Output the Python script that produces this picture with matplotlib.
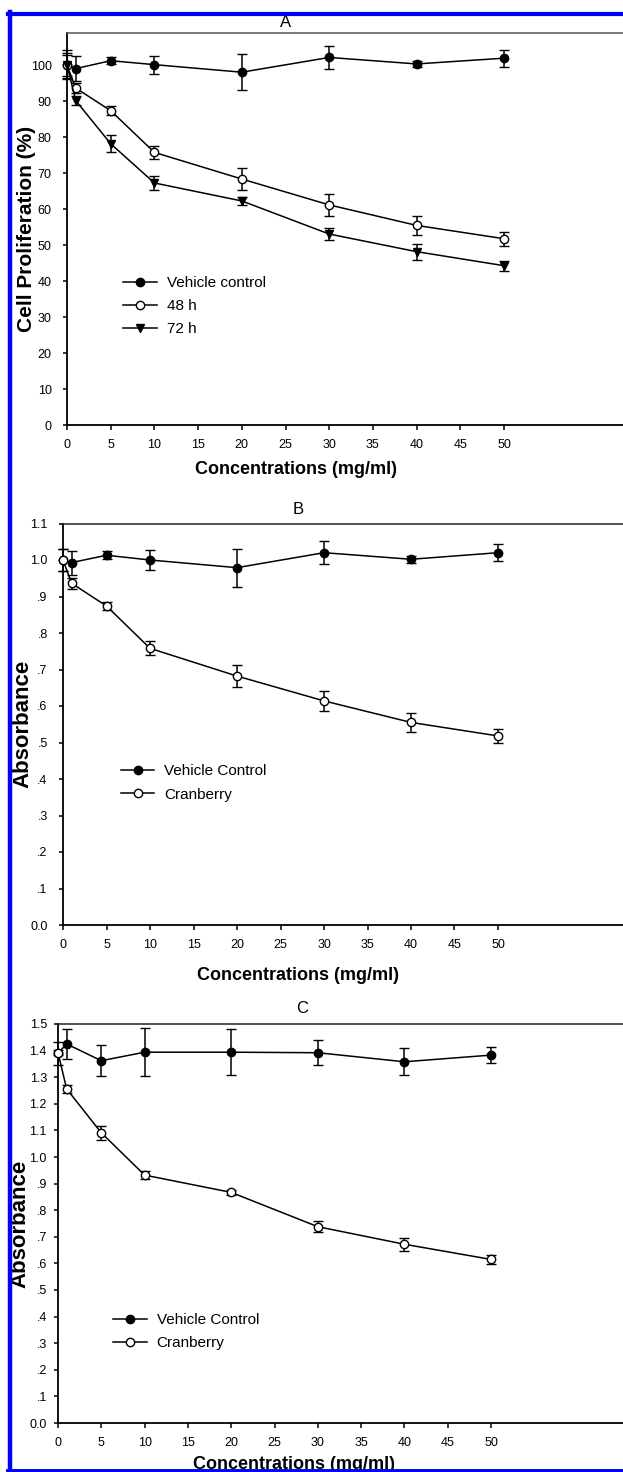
import matplotlib.pyplot as plt
from matplotlib.lines import Line2D

plt.rcParams['font.family'] = ['Liberation Sans', 'DejaVu Sans']

W, H = 623, 1472

# concentrations (mg/ml)
conc = [0, 1, 5, 10, 20, 30, 40, 50]

# panel A - cell proliferation (%)
a_vehicle = [100.2, 99.1, 101.3, 100.2, 98.1, 102.2, 100.4, 102.0]
a_vehicle_err = [4.0, 3.5, 0.9, 2.5, 5.0, 3.1, 0.9, 2.4]
a_48h = [100.0, 93.7, 87.4, 75.8, 68.4, 61.2, 55.5, 51.8]
a_48h_err = [3.0, 1.4, 1.2, 1.9, 3.0, 3.0, 2.6, 1.9]
a_72h = [100.0, 90.2, 78.2, 67.3, 62.3, 53.1, 48.2, 44.3]
a_72h_err = [3.5, 1.2, 2.3, 1.9, 1.0, 1.7, 2.2, 1.4]

# panel B - absorbance
b_vehicle = [1.0, 0.993, 1.013, 1.0, 0.979, 1.02, 1.002, 1.02]
b_vehicle_err = [0.03, 0.033, 0.011, 0.027, 0.052, 0.031, 0.009, 0.024]
b_cran = [1.0, 0.936, 0.874, 0.758, 0.682, 0.614, 0.555, 0.518]
b_cran_err = [0.03, 0.016, 0.012, 0.019, 0.03, 0.028, 0.026, 0.019]

# panel C - absorbance
c_vehicle = [1.39, 1.425, 1.362, 1.394, 1.394, 1.392, 1.358, 1.383]
c_vehicle_err = [0.044, 0.056, 0.058, 0.091, 0.086, 0.046, 0.05, 0.029]
c_cran = [1.392, 1.256, 1.091, 0.932, 0.867, 0.738, 0.672, 0.615]
c_cran_err = [0.01, 0.014, 0.026, 0.015, 0.01, 0.02, 0.025, 0.016]

xticks = [0, 5, 10, 15, 20, 25, 30, 35, 40, 45, 50]
a_yticks = [0, 10, 20, 30, 40, 50, 60, 70, 80, 90, 100]
b_yticks = [0.0, 0.1, 0.2, 0.3, 0.4, 0.5, 0.6, 0.7, 0.8, 0.9, 1.0, 1.1]
b_ylabels = ['0.0', '.1', '.2', '.3', '.4', '.5', '.6', '.7', '.8', '.9', '1.0', '1.1']
c_yticks = [0.0, 0.1, 0.2, 0.3, 0.4, 0.5, 0.6, 0.7, 0.8, 0.9, 1.0, 1.1, 1.2, 1.3, 1.4, 1.5]
c_ylabels = ['0.0', '.1', '.2', '.3', '.4', '.5', '.6', '.7', '.8', '.9',
             '1.0', '1.1', '1.2', '1.3', '1.4', '1.5']

XMAX = 70  # axes run past the right edge of the picture (cropped original)


def axes_px(fig, left, top, bottom, px_per_unit):
    width = px_per_unit * XMAX
    return fig.add_axes([left / W, 1 - bottom / H, width / W, (bottom - top) / H])


def series(ax, y, err, marker, face, label):
    ax.errorbar(conc, y, yerr=err, color='black', marker=marker, markersize=6,
                markerfacecolor=face, markeredgecolor='black', markeredgewidth=1,
                linewidth=1.1, elinewidth=1.1, capsize=3.6, capthick=1.1,
                clip_on=False, zorder=3, label=label)


def style(ax, ylim, yticks, ylabels, ylabel, ylab_size, title, title_x, title_y,
          xlab_x, xlab_y, ylab_x, ypad, top_color):
    ax.set_xlim(0, XMAX)
    ax.set_ylim(*ylim)
    ax.set_xticks(xticks)
    ax.set_yticks(yticks)
    ax.set_yticklabels(ylabels)
    ax.spines['right'].set_visible(False)
    ax.spines['top'].set_color(top_color)
    ax.spines['top'].set_linewidth(1.1)
    ax.spines['left'].set_linewidth(1.3)
    ax.spines['bottom'].set_linewidth(1.3)
    ax.tick_params(axis='x', direction='out', length=3.6, width=1.1, labelsize=9, pad=6.5)
    ax.tick_params(axis='y', direction='out', length=3, width=1.1, labelsize=9, pad=ypad)
    ax.set_xlabel('Concentrations (mg/ml)', fontsize=13, fontweight='bold')
    ax.xaxis.set_label_coords(xlab_x, xlab_y)
    ax.set_ylabel(ylabel, fontsize=ylab_size, fontweight='bold')
    ax.yaxis.set_label_coords(ylab_x, 0.5)
    ax.text(title_x, title_y, title, transform=ax.transAxes, ha='center',
            va='bottom', fontsize=12)


def legend(ax, handles, labels, x, y):
    ax.legend(handles, labels, loc='upper left', bbox_to_anchor=(x, y),
              frameon=False, fontsize=11, borderpad=0, borderaxespad=0,
              handlelength=2.2, handletextpad=0.65, labelspacing=0.6)


fig = plt.figure(figsize=(W / 100, H / 100), dpi=100)

handles = [Line2D([], [], color='black', lw=1.1, marker='o', markersize=6, mfc='black', mec='black'),
           Line2D([], [], color='black', lw=1.1, marker='o', markersize=6, mfc='white', mec='black'),
           Line2D([], [], color='black', lw=1.1, marker='v', markersize=6, mfc='black', mec='black')]

# A
ax = axes_px(fig, 67, 33, 425, 8.74)
series(ax, a_vehicle, a_vehicle_err, 'o', 'black', 'Vehicle control')
series(ax, a_48h, a_48h_err, 'o', 'white', '48 h')
series(ax, a_72h, a_72h_err, 'v', 'black', '72 h')
style(ax, (0, 109), a_yticks, [str(t) for t in a_yticks], 'Cell Proliferation (%)', 15,
      'A', 0.358, 1.008, 0.375, -0.092, -0.051, 8, '#555555')
legend(ax, handles, ['Vehicle control', '48 h', '72 h'], 0.092, 0.38)

# B
ax = axes_px(fig, 63, 523.5, 925, 8.7)
series(ax, b_vehicle, b_vehicle_err, 'o', 'black', 'Vehicle Control')
series(ax, b_cran, b_cran_err, 'o', 'white', 'Cranberry')
style(ax, (0, 1.1), b_yticks, b_ylabels, 'Absorbance', 16,
      'B', 0.387, 1.017, 0.386, -0.104, -0.049, 8, '#222222')
legend(ax, handles[:2], ['Vehicle Control', 'Cranberry'], 0.095, 0.40)

# C
ax = axes_px(fig, 58, 1024, 1423, 8.66)
series(ax, c_vehicle, c_vehicle_err, 'o', 'black', 'Vehicle Control')
series(ax, c_cran, c_cran_err, 'o', 'white', 'Cranberry')
style(ax, (0, 1.5), c_yticks, c_ylabels, 'Absorbance', 16,
      'C', 0.402, 1.02, 0.389, -0.083, -0.045, 5, '#222222')
legend(ax, handles[:2], ['Vehicle Control', 'Cranberry'], 0.091, 0.276)

# blue frame (left, top, bottom)
blue = '#0000ff'
fig.add_artist(Line2D([10 / W, 10 / W], [0, 1 - 12 / H], color=blue, lw=3.2,
                      transform=fig.transFigure))
fig.add_artist(Line2D([8 / W, 1], [1 - 14 / H, 1 - 14 / H], color=blue, lw=3.0,
                      transform=fig.transFigure))
fig.add_artist(Line2D([8 / W, 1], [1 - 1470.5 / H, 1 - 1470.5 / H], color=blue, lw=2.8,
                      transform=fig.transFigure))

fig.savefig('out.png', dpi=100)
